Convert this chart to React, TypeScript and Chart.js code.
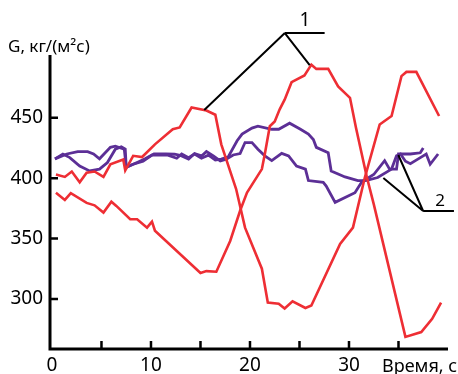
import React, { useEffect, useRef } from 'react';
import { Chart, registerables } from 'chart.js';
Chart.register(...registerables);

// Time axis (s) and G values (kg/(m²s))
const red1T = [0.4, 1.3, 2.0, 2.8, 3.5, 4.3, 5.2, 5.9, 7.2, 7.4, 8.2, 9.1, 10.4, 12.2, 12.9, 14.1, 15.6, 16.5, 17.1, 18.6, 19.5, 21.2, 21.8, 22.9, 23.5, 24.3, 25.6, 26.2, 29.1, 30.4, 31.6, 33.1, 34.3, 35.3, 35.8, 36.8, 39.1];
const red1G = [403, 401, 405.5, 396.5, 404.5, 405.5, 401, 411.5, 415.5, 406.5, 418.5, 417.5, 428, 440.5, 442, 458.5, 456, 452.5, 428, 391, 359, 325, 297, 296, 292, 298, 292.5, 294.5, 345.5, 359, 400.5, 444.5, 451.5, 484.5, 488, 488, 451.5];

const red2T = [0.4, 1.3, 1.9, 3.5, 4.3, 5.2, 6.0, 6.5, 7.9, 8.6, 9.6, 10.1, 10.4, 15.0, 15.6, 16.6, 18.0, 19.0, 19.7, 21.2, 21.5, 22.0, 22.5, 23.0, 23.5, 24.2, 25.5, 26.2, 26.7, 27.9, 28.9, 30.1, 30.7, 31.8, 32.5, 35.7, 37.3, 38.4, 39.3];
const red2G = [388, 382, 387.5, 379.5, 377.5, 371.5, 380.5, 377, 366, 366, 359, 364, 356.5, 321.5, 323, 322.5, 348, 373, 388, 407.5, 420, 443, 447, 457, 465, 479.5, 485, 494, 490.5, 490.5, 476, 466.5, 442, 401, 378.5, 268.5, 272.5, 283.5, 297];

const violet1T = [0.3, 1.1, 1.8, 2.8, 3.8, 4.8, 5.6, 6.4, 7.0, 7.4, 7.5, 8.2, 9.2, 10.1, 11.7, 12.6, 13.1, 13.8, 14.4, 15.1, 15.8, 16.5, 17.1, 17.8, 18.7, 19.2, 20.2, 20.8, 22.2, 22.9, 24.0, 25.1, 25.9, 26.4, 26.7, 27.9, 28.2, 29.6, 30.9, 31.7, 32.9, 34.3, 34.8, 35.2, 35.7, 36.2, 37.0, 37.8, 38.2, 39.0];
const violet1G = [416, 420, 417, 410, 406, 407.5, 413, 424, 426, 424, 409, 411.5, 414, 419, 419, 416.5, 420, 417, 420, 416.5, 419, 415, 415.7, 417.6, 431, 436.5, 441.5, 443, 440.5, 440.5, 445.5, 440.5, 436.5, 432, 425.5, 421, 406, 401, 398, 398, 400.5, 407.5, 418.5, 420, 414, 412, 416, 420, 411.5, 420];

const violet2T = [0.3, 1.5, 2.6, 3.6, 4.2, 4.8, 5.9, 6.4, 7.3, 7.5, 8.6, 9.4, 10.3, 11.5, 12.4, 13.1, 13.8, 14.4, 15.1, 15.6, 16.3, 17.0, 17.6, 18.3, 19.0, 19.5, 20.2, 20.8, 21.5, 22.2, 23.2, 23.9, 24.7, 25.6, 25.9, 27.4, 27.7, 28.6, 30.6, 31.3, 32.5, 33.6, 34.1, 34.8, 35.0, 36.2, 37.2, 37.5];
const violet2G = [416, 420, 422, 422, 420, 416, 425.5, 426.5, 424, 409, 413, 416, 420, 420, 419.8, 418.4, 415.7, 420.4, 418.4, 422, 418.4, 414.3, 415.7, 419.2, 420.4, 429.5, 429.5, 424, 418.5, 414.5, 420.5, 418.5, 410, 407.5, 398, 396.5, 393.5, 380, 388, 397, 403, 414.5, 407.5, 407.5, 420, 420, 421, 425];

const xTicks = [0, 5, 10, 15, 20, 25, 30, 35];
const xTickLabels = ['0', '', '10', '', '20', '', '30', ''];
const yTicks = [300, 350, 400, 450];
const yTickLabels = ['300', '350', '400', '450'];

const yTitle = 'G, кг/(м²с)';
const xTitle = 'Время, с';
const label1 = '1';
const label2 = '2';

// leader lines of the callouts, in data units [t, G]
const callout1 = { vertex: [23.52, 520.2], arm: [27.54, 520.2], legs: [[15.38, 456.4], [26.03, 493.7]], text: [25.0, 526] };
const callout2 = { vertex: [37.49, 372.8], arm: [40.6, 372.8], legs: [[33.47, 400.1], [34.98, 419.2]], text: [38.7, 376.9] };

const RED = 'rgb(238,46,52)';
const VIOLET = 'rgb(92,47,150)';
const FONT = '"Noto Sans", "Open Sans", sans-serif';

function pts(t: number[], g: number[]) {
  return t.map((x, i) => ({ x, y: g[i] }));
}

const overlay = {
  id: 'overlay',
  afterDraw(chart: any) {
    const { ctx, chartArea, scales } = chart;
    const xs = scales.x;
    const ys = scales.y;
    ctx.save();
    // axes
    ctx.strokeStyle = '#000';
    ctx.lineWidth = 3;
    ctx.beginPath();
    ctx.moveTo(chartArea.left, chartArea.top);
    ctx.lineTo(chartArea.left, chartArea.bottom + 1.5);
    ctx.moveTo(chartArea.left - 1.5, chartArea.bottom);
    ctx.lineTo(chartArea.right, chartArea.bottom);
    ctx.stroke();
    // inward ticks
    ctx.lineWidth = 2.5;
    ctx.beginPath();
    yTicks.forEach((v) => {
      const y = ys.getPixelForValue(v);
      ctx.moveTo(chartArea.left, y);
      ctx.lineTo(chartArea.left + 8, y);
    });
    xTicks.forEach((v) => {
      if (v === 0) return;
      const x = xs.getPixelForValue(v);
      ctx.moveTo(x, chartArea.bottom);
      ctx.lineTo(x, chartArea.bottom - 8);
    });
    ctx.stroke();
    // callouts
    ctx.lineWidth = 2;
    [callout1, callout2].forEach((c) => {
      const vx = xs.getPixelForValue(c.vertex[0]);
      const vy = ys.getPixelForValue(c.vertex[1]);
      ctx.beginPath();
      ctx.moveTo(xs.getPixelForValue(c.arm[0]), ys.getPixelForValue(c.arm[1]));
      ctx.lineTo(vx, vy);
      c.legs.forEach((l) => {
        ctx.moveTo(vx, vy);
        ctx.lineTo(xs.getPixelForValue(l[0]), ys.getPixelForValue(l[1]));
      });
      ctx.stroke();
    });
    ctx.fillStyle = '#000';
    ctx.textBaseline = 'alphabetic';
    ctx.textAlign = 'left';
    ctx.font = `19px ${FONT}`;
    ctx.fillText(label1, xs.getPixelForValue(callout1.text[0]), ys.getPixelForValue(callout1.text[1]));
    ctx.font = `17px ${FONT}`;
    ctx.fillText(label2, xs.getPixelForValue(callout2.text[0]), ys.getPixelForValue(callout2.text[1]));
    ctx.font = `17px ${FONT}`;
    ctx.fillText(yTitle, 8, 52);
    ctx.font = `18px ${FONT}`;
    ctx.fillText(xTitle, 382, 372);
    ctx.restore();
  },
};

export default function App() {
  const ref = useRef<HTMLCanvasElement | null>(null);
  useEffect(() => {
    if (!ref.current) return;
    const line = (t: number[], g: number[], color: string, w: number) => ({
      data: pts(t, g),
      borderColor: color,
      backgroundColor: color,
      borderWidth: w,
      pointRadius: 0,
      tension: 0,
      fill: false,
      clip: false as any,
    });
    const chart = new Chart(ref.current, {
      type: 'line',
      data: {
        datasets: [
          line(red1T, red1G, RED, 2.6),
          line(red2T, red2G, RED, 2.6),
          line(violet1T, violet1G, VIOLET, 2.8),
          line(violet2T, violet2G, VIOLET, 2.8),
        ],
      },
      options: {
        responsive: false,
        animation: false,
        events: [],
        layout: { padding: { top: 55, right: 10, left: 0, bottom: 0 } },
        plugins: { legend: { display: false }, tooltip: { enabled: false }, title: { display: false } },
        scales: {
          x: {
            type: 'linear',
            min: -0.2,
            max: 40,
            grid: { display: false, drawTicks: false },
            border: { display: false },
            afterBuildTicks: (s: any) => { s.ticks = xTicks.map((v) => ({ value: v })); },
            afterFit: (s: any) => { s.height = 25; },
            ticks: {
              autoSkip: false,
              maxRotation: 0,
              padding: 5,
              color: '#000',
              font: { family: FONT, size: 19 },
              callback: (v: any) => xTickLabels[xTicks.indexOf(Number(v))] ?? '',
            },
          },
          y: {
            type: 'linear',
            min: 258.5,
            max: 502,
            grid: { display: false, drawTicks: false },
            border: { display: false },
            afterBuildTicks: (s: any) => { s.ticks = yTicks.map((v) => ({ value: v })); },
            afterFit: (s: any) => { s.width = 50; },
            ticks: {
              autoSkip: false,
              padding: 7,
              color: '#000',
              font: { family: FONT, size: 19 },
              callback: (v: any) => yTickLabels[yTicks.indexOf(Number(v))] ?? '',
            },
          },
        },
      },
      plugins: [overlay],
    });
    return () => chart.destroy();
  }, []);
  return (
    <div style={{ position: 'absolute', left: 0, top: 0, width: 458, height: 374, background: '#fff', overflow: 'hidden' }}>
      <canvas ref={ref} width={458} height={374} style={{ display: 'block' }} />
    </div>
  );
}
